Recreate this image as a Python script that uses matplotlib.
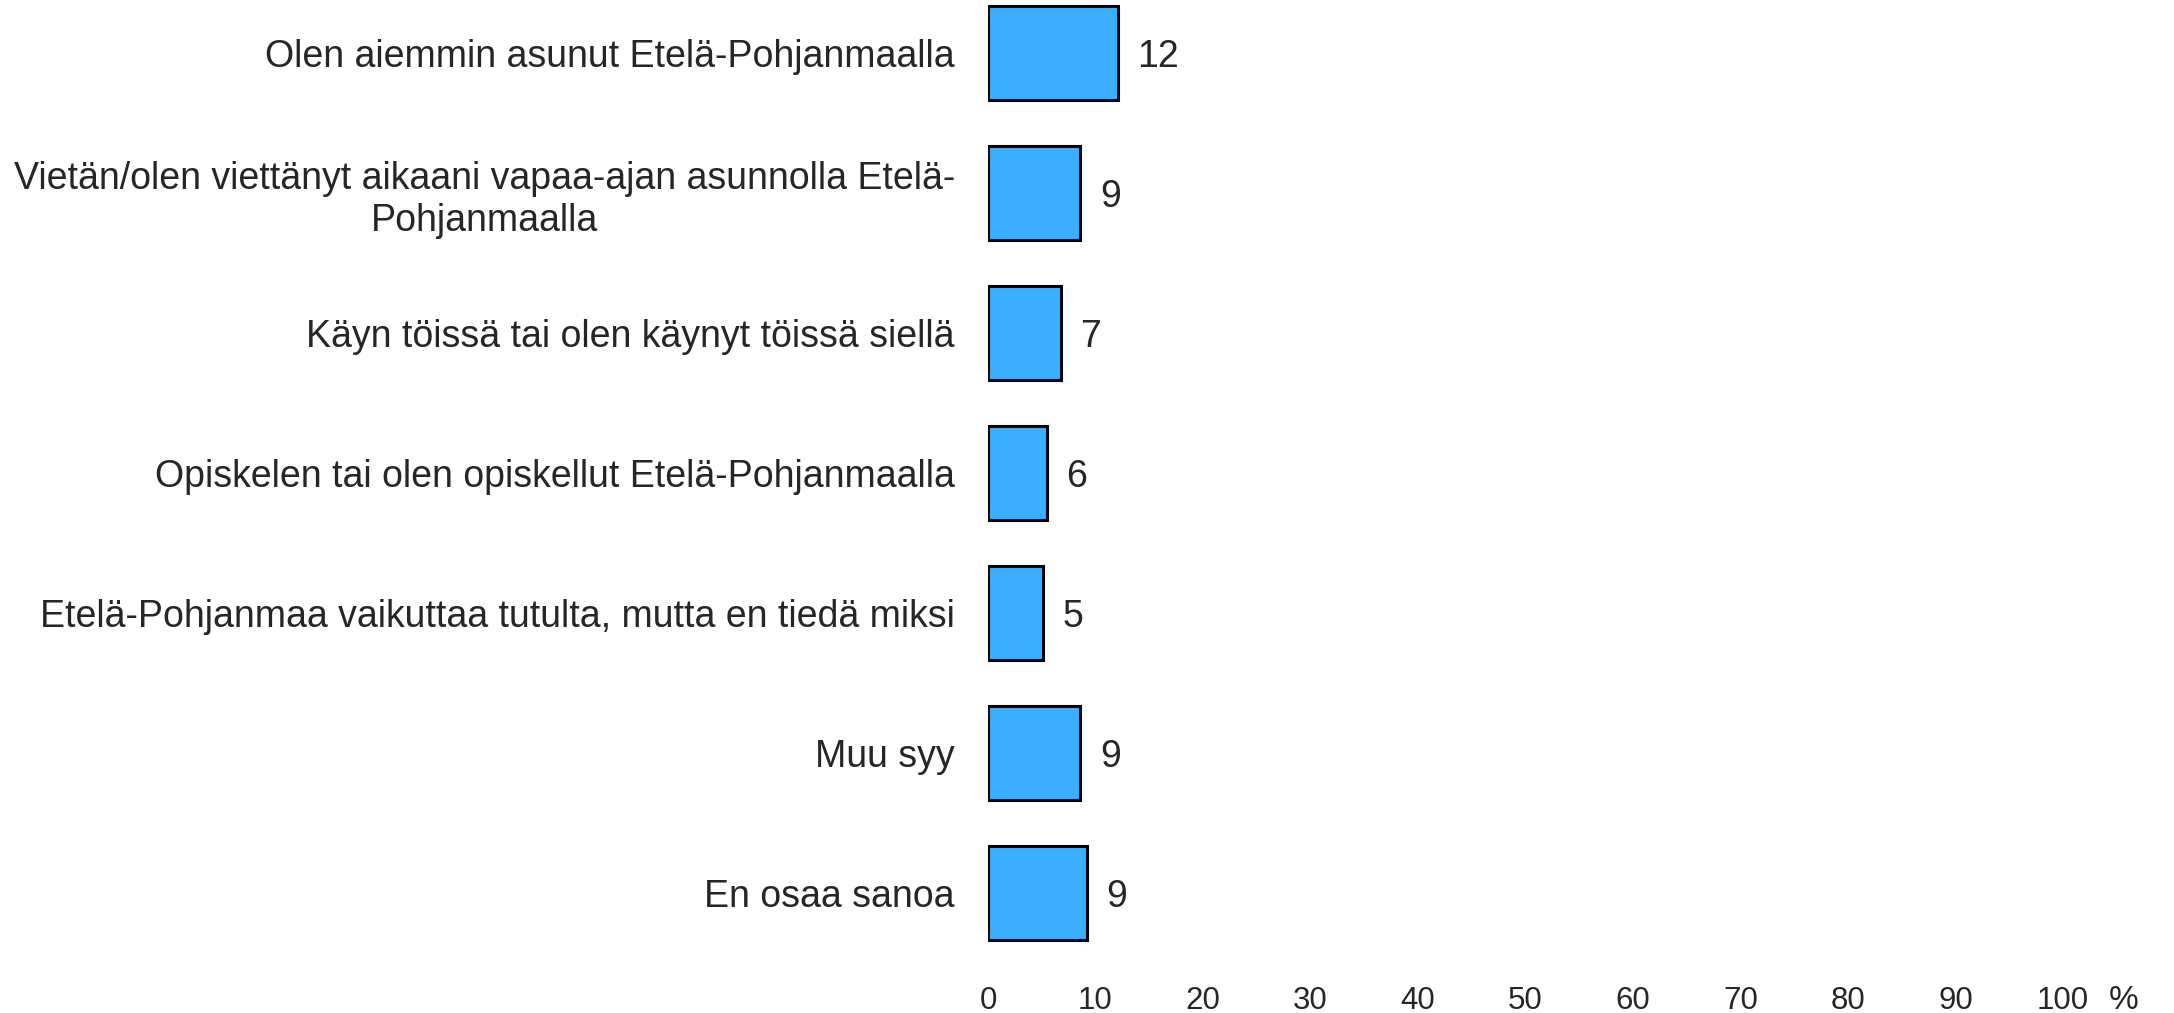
import numpy as np
import matplotlib
matplotlib.use('Agg')
import matplotlib.pyplot as plt

## chart data
categories = [
    'Olen aiemmin asunut Etelä-Pohjanmaalla',
    'Vietän/olen viettänyt aikaani vapaa-ajan asunnolla Etelä-\nPohjanmaalla',
    'Käyn töissä tai olen käynyt töissä siellä',
    'Opiskelen tai olen opiskellut Etelä-Pohjanmaalla',
    'Etelä-Pohjanmaa vaikuttaa tutulta, mutta en tiedä miksi',
    'Muu syy',
    'En osaa sanoa',
]
values = [12.1, 8.6, 6.75, 5.45, 5.1, 8.6, 9.2]
value_labels = ['12', '9', '7', '6', '5', '9', '9']
xticks = [0, 10, 20, 30, 40, 50, 60, 70, 80, 90, 100]

plt.rcParams['font.family'] = ['Liberation Sans', 'DejaVu Sans']
text_col = '#262626'
bar_col = '#3BAEFF'

W, H = 2174, 1013
fig = plt.figure(figsize=(W / 100, H / 100), dpi=100)

# axes placed in pixel terms: x=0 at 988px, x=100 at 2063px
ax_left, ax_right = 988, 2063
ax_top, ax_bot = 0, 965
ax = fig.add_axes([ax_left / W, 1 - ax_bot / H, (ax_right - ax_left) / W, (ax_bot - ax_top) / H])

y = np.arange(len(categories))
ax.barh(y, values, height=0.667, color=bar_col, edgecolor='black', linewidth=2.2)

# first bar centre at 53px, spacing ~139.8px
step = 139.8
ax.set_ylim(6 + (ax_bot - 893) / step, -53 / step)
ax.set_xlim(0, 100)

ax.set_yticks(y)
ax.set_yticklabels(categories, fontsize=27, color=text_col, multialignment='center', linespacing=1.2)
ax.set_xticks(xticks)
ax.set_xticklabels([str(t) for t in xticks], fontsize=22.5, color=text_col)
ax.tick_params(axis='y', length=0, pad=23.8)
ax.tick_params(axis='x', length=0, pad=15)

for s in ax.spines.values():
    s.set_visible(False)

for yi, v, lab in zip(y, values, value_labels):
    ax.annotate(lab, (v, yi), xytext=(14, 0), textcoords='offset points',
                ha='left', va='center_baseline', fontsize=27, color=text_col)

fig.text(2124 / W, 1 - 1009 / H, '%', ha='center', va='baseline', fontsize=24, color=text_col)

fig.savefig('out.png', dpi=100, facecolor='white')
